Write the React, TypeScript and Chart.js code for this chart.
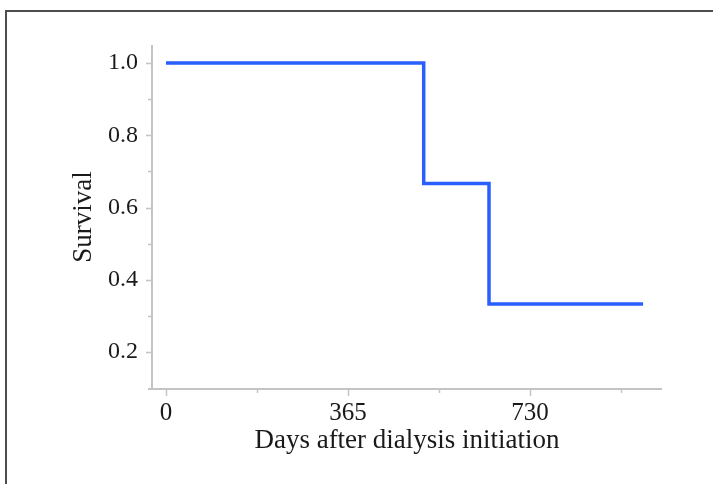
import React, { useEffect, useRef } from "react";
import { Chart, registerables } from "chart.js";

Chart.register(...registerables);

const days = [0, 517, 648, 957];
const survival = [1.0, 0.667, 0.333, 0.333];

const xTickValues = [0, 182.5, 365, 547.5, 730, 912.5];
const xTickLabels = ["0", "", "365", "", "730", ""];
const yTickValues = [0.2, 0.3, 0.4, 0.5, 0.6, 0.7, 0.8, 0.9, 1.0];
const yTickLabels = ["0.2", "", "0.4", "", "0.6", "", "0.8", "", "1.0"];

const xTitle = "Days after dialysis initiation";
const yTitle = "Survival";

const FONT = "'Liberation Serif', 'Times New Roman', serif";

const axisPlugin = {
  id: "customAxes",
  afterDraw(chart: any) {
    const { ctx, chartArea } = chart;
    const { left, right, top, bottom } = chartArea;
    const xs = chart.scales.x;
    const ys = chart.scales.y;
    ctx.save();
    ctx.strokeStyle = "#c4c4c4";
    ctx.lineWidth = 2;
    ctx.beginPath();
    ctx.moveTo(left - 4, bottom);
    ctx.lineTo(right, bottom);
    ctx.moveTo(left, top);
    ctx.lineTo(left, bottom);
    ctx.stroke();
    ctx.lineWidth = 1.5;
    ctx.beginPath();
    xTickValues.forEach((v, i) => {
      const px = Math.round(xs.getPixelForValue(v)) + 0.5;
      const len = xTickLabels[i] ? 7 : 4;
      ctx.moveTo(px, bottom);
      ctx.lineTo(px, bottom + len);
    });
    yTickValues.forEach((v, i) => {
      const py = Math.round(ys.getPixelForValue(v)) + 0.5;
      const len = yTickLabels[i] ? 6 : 4;
      ctx.moveTo(left, py);
      ctx.lineTo(left - len, py);
    });
    ctx.stroke();
    ctx.restore();
  },
};

export default function App() {
  const ref = useRef<HTMLCanvasElement | null>(null);
  useEffect(() => {
    if (!ref.current) return;
    const chart = new Chart(ref.current, {
      type: "line",
      data: {
        datasets: [
          {
            data: days.map((d, i) => ({ x: d, y: survival[i] })),
            stepped: true,
            borderColor: "#2a5fff",
            borderWidth: 3.5,
            pointRadius: 0,
            fill: false,
            borderCapStyle: "butt",
            borderJoinStyle: "miter",
          },
        ],
      },
      options: {
        animation: false,
        responsive: true,
        maintainAspectRatio: false,
        layout: { padding: { top: 45, right: 51, left: 0, bottom: 0 } },
        plugins: { legend: { display: false }, tooltip: { enabled: false } },
        scales: {
          x: {
            type: "linear",
            min: -28,
            max: 995,
            grid: { display: false },
            border: { display: false },
            afterBuildTicks: (scale: any) => {
              scale.ticks = xTickValues.map((v) => ({ value: v }));
            },
            afterFit: (scale: any) => {
              scale.height = 95;
            },
            ticks: {
              autoSkip: false,
              maxRotation: 0,
              padding: 1,
              color: "#1a1a1a",
              font: { family: FONT, size: 25 },
              callback: (_v: any, i: number) => xTickLabels[i],
            },
            title: {
              display: true,
              text: xTitle,
              color: "#1a1a1a",
              font: { family: FONT, size: 27 },
              padding: { top: 0, bottom: 27 },
            },
          },
          y: {
            type: "linear",
            min: 0.098,
            max: 1.05,
            grid: { display: false },
            border: { display: false },
            afterBuildTicks: (scale: any) => {
              scale.ticks = yTickValues.map((v) => ({ value: v }));
            },
            afterFit: (scale: any) => {
              scale.width = 152;
            },
            ticks: {
              autoSkip: false,
              padding: 6,
              color: "#1a1a1a",
              font: { family: FONT, size: 24 },
              callback: (_v: any, i: number) => yTickLabels[i],
            },
            title: {
              display: true,
              text: yTitle,
              color: "#1a1a1a",
              font: { family: FONT, size: 27 },
              padding: { top: 68, bottom: 0 },
            },
          },
        },
      },
      plugins: [axisPlugin],
    });
    return () => chart.destroy();
  }, []);

  return (
    <div style={{ position: "fixed", left: 0, top: 0, width: 713, height: 484, background: "#fff", overflow: "hidden" }}>
      <div
        style={{
          position: "absolute",
          left: 5,
          top: 10,
          width: 800,
          height: 600,
          border: "2px solid #4d4d4d",
        }}
      />
      <canvas ref={ref} style={{ position: "absolute", left: 0, top: 0, width: 713, height: 484 }} />
    </div>
  );
}
